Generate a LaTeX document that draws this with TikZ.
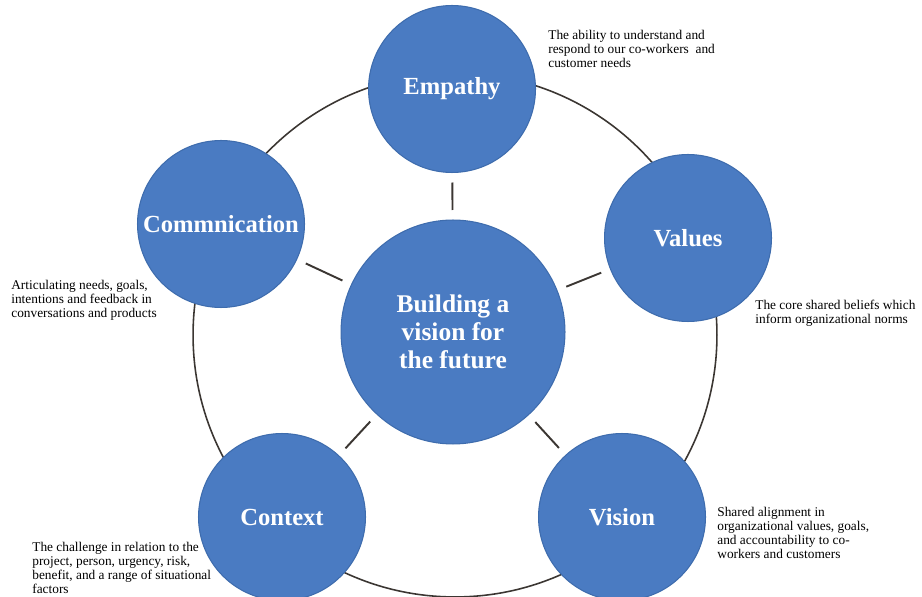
\documentclass[tikz,border=0pt]{standalone}
\usepackage{fontspec}
\setmainfont{Liberation Serif}

\definecolor{petalblue}{HTML}{4A7BC2}
\definecolor{petaledge}{HTML}{3E6CAD}
\definecolor{linkgray}{HTML}{3B3632}

\tikzset{
  petal/.style={circle, fill=petalblue, draw=petaledge, line width=0.6pt,
    minimum size=3.34cm, inner sep=0pt, text=white,
    font=\bfseries\fontsize{14}{16}\selectfont},
  hub/.style={petal, minimum size=4.48cm, align=center,
    font=\bfseries\fontsize{14.5}{16}\selectfont},
  spoke/.style={draw=linkgray, line width=1.1pt,
    shorten >=0.19cm, shorten <=0.19cm},
  ring/.style={draw=linkgray, line width=0.9pt},
  note/.style={anchor=north west, inner sep=0pt, align=left,
    font=\fontsize{7.6}{7.9}\selectfont}
}

\begin{document}
\begin{tikzpicture}[x=0.02cm, y=-0.02cm]
	\useasboundingbox (0,0) rectangle (922,597);
	% big ring behind the circles
	\coordinate (mid) at (455,335);
	\draw[ring] (mid) circle[radius=5.24cm];

	\node[hub] (hub) at (453,332) {Building a\\vision for\\the future};
	\node[petal] (emp) at (452,89) {Empathy};
	\node[petal] (val) at (688,238) {Values};
	\node[petal] (vis) at (622,517) {Vision};
	\node[petal] (ctx) at (282,517) {Context};
	\node[petal] (com) at (221,224) {Commnication};

	\path[spoke] (hub) edge (emp);
	\path[spoke] (hub) edge (val);
	\path[spoke] (hub) edge (vis);
	\path[spoke] (hub) edge (ctx);
	\path[spoke] (hub) edge (com);

	% side notes
	\node[note] (empnote) at (548,30) {The ability to understand and\\respond to our co-workers\ \ and\\customer needs};
	\node[note] (valnote) at (755,300) {The core shared beliefs which\\inform organizational norms};
	\node[note] (comnote) at (11,280) {Articulating needs, goals,\\intentions and feedback in\\conversations and products};
	\node[note] (visnote) at (717,507) {Shared alignment in\\organizational values, goals,\\and accountability to co-\\workers and customers};
	\node[note] (ctxnote) at (32,542) {The challenge in relation to the\\project, person, urgency, risk,\\benefit, and a range of situational\\factors};
\end{tikzpicture}
\end{document}
